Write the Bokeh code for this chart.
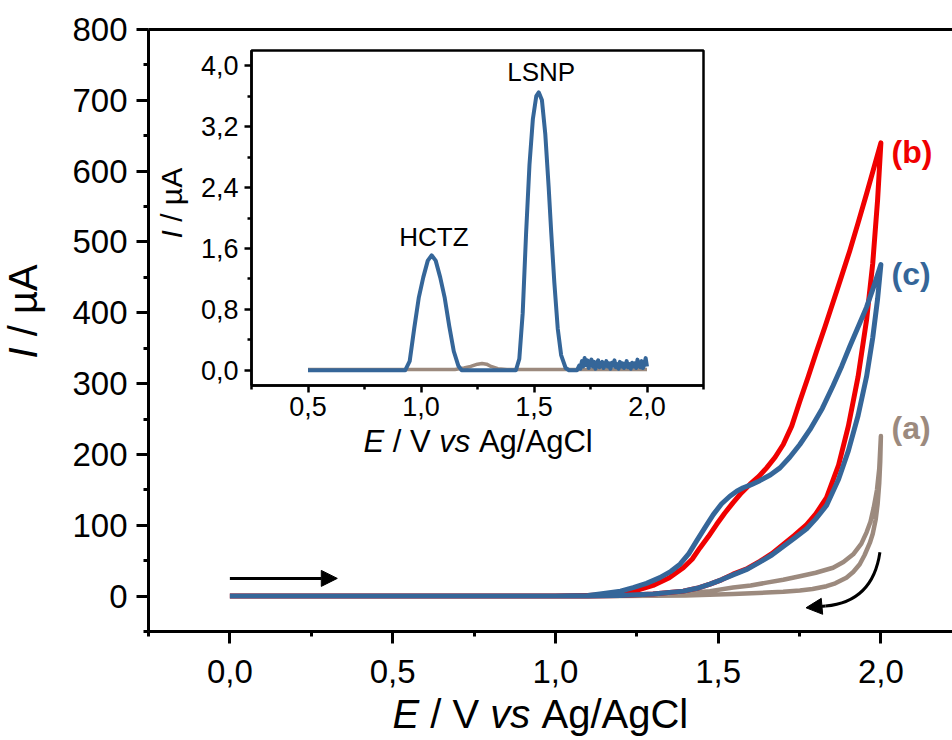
import math
from bokeh.plotting import figure
from bokeh.models import Range1d, LinearAxis, FixedTicker, Label, Arrow, NormalHead
from bokeh.embed import file_html
from bokeh.resources import INLINE

# ---------------- data ----------------
# (a) CV, brown-grey
a_fwd_E = [0.0, 1.0, 1.2, 1.3, 1.4, 1.475, 1.546, 1.6, 1.649, 1.7, 1.751, 1.8, 1.853, 1.885, 1.915, 1.94, 1.956,
           1.968, 1.978, 1.988, 1.995, 2.0]
a_fwd_I = [0, 0, 1, 2, 4, 7, 12, 15, 19, 23, 28, 33, 40, 48, 59, 74, 90, 105, 125, 150, 180, 226]
a_rev_E = [2.0, 1.998, 1.995, 1.99, 1.984, 1.975, 1.966, 1.95, 1.935, 1.915, 1.894, 1.86, 1.833, 1.79, 1.751,
           1.7, 1.649, 1.546, 1.4, 1.2, 1.0, 0.0]
a_rev_I = [226, 190, 160, 130, 108, 88, 75, 58, 45, 34, 26, 18, 14, 10, 8, 6, 5, 3, 1, 0, 0, 0]
# (b) CV, red
b_fwd_E = [0.0, 1.0, 1.1, 1.15, 1.2, 1.25, 1.3, 1.35, 1.393, 1.42, 1.444, 1.47, 1.495, 1.52, 1.546, 1.572, 1.598,
           1.625, 1.649, 1.675, 1.700, 1.726, 1.751, 1.777, 1.802, 1.828, 1.853, 1.878, 1.904, 1.930, 1.956, 1.978, 2.0]
b_fwd_I = [0, 0, 1, 2, 4, 8, 15, 26, 40, 52, 68, 84, 101, 117, 132, 146, 158, 169, 181, 196, 214, 240, 275,
           310, 345, 380, 415, 450, 487, 527, 568, 604, 640]
b_rev_E = [2.0, 1.99, 1.975, 1.956, 1.93, 1.90, 1.87, 1.833, 1.80, 1.772, 1.735, 1.700, 1.665, 1.628, 1.59, 1.546,
           1.51, 1.475, 1.435, 1.393, 1.30, 1.20, 1.10, 0.0]
b_rev_I = [640, 560, 470, 390, 310, 240, 185, 139, 116, 101, 86, 73, 60, 49, 39, 31, 23, 17, 11, 7, 3, 1, 0, 0]
# (c) CV, blue
c_fwd_E = [0.0, 1.0, 1.1, 1.137, 1.2, 1.239, 1.28, 1.321, 1.355, 1.383, 1.41, 1.434, 1.46, 1.485, 1.51, 1.536,
           1.557, 1.577, 1.60, 1.628, 1.66, 1.690, 1.72, 1.751, 1.782, 1.82, 1.853, 1.88, 1.904, 1.93, 1.956, 1.978, 2.0]
c_fwd_I = [0, 0, 1, 3, 7, 12, 18, 26, 35, 45, 60, 78, 97, 115, 130, 141, 148, 153, 157, 163, 171, 181, 196, 214,
           235, 265, 297, 325, 352, 380, 408, 437, 468]
c_rev_E = [2.0, 1.99, 1.975, 1.956, 1.93, 1.90, 1.87, 1.833, 1.80, 1.772, 1.735, 1.700, 1.665, 1.628, 1.59, 1.546,
           1.51, 1.475, 1.435, 1.393, 1.30, 1.20, 1.10, 0.0]
c_rev_I = [468, 420, 365, 310, 255, 205, 165, 128, 109, 95, 82, 70, 58, 48, 38, 30, 23, 17, 11, 7, 3, 1, 0, 0]

# inset DPV, blue
ins_c_E = [0.50, 0.90, 0.93, 0.95, 0.97, 0.99, 1.01, 1.03, 1.047, 1.065, 1.085, 1.105, 1.125, 1.145, 1.165, 1.18,
           1.40, 1.42, 1.435, 1.45, 1.465, 1.48, 1.495, 1.51, 1.521, 1.535, 1.55, 1.565, 1.576, 1.59, 1.605, 1.62, 1.64, 1.655,
           1.690, 1.700, 1.705, 1.712, 1.718, 1.724, 1.730, 1.736, 1.742, 1.748, 1.754, 1.760, 1.766, 1.772, 1.778,
           1.784, 1.790, 1.796, 1.802, 1.808, 1.814, 1.820, 1.826, 1.832, 1.838, 1.844, 1.850, 1.856, 1.862, 1.868,
           1.874, 1.880, 1.886, 1.892, 1.898, 1.904, 1.910, 1.916, 1.922, 1.928, 1.934, 1.940, 1.946, 1.952, 1.958,
           1.964, 1.970, 1.976, 1.982, 1.988, 1.994, 2.000]
ins_c_I = [0.0, 0.0, 0.0, 0.12, 0.55, 0.95, 1.22, 1.44, 1.51, 1.44, 1.22, 0.95, 0.58, 0.25, 0.06, 0.0,
           0.0, 0.0, 0.15, 0.75, 1.8, 2.7, 3.3, 3.6, 3.65, 3.55, 3.1, 2.4, 1.82, 1.15, 0.55, 0.2, 0.03, 0.0,
           0.00, 0.06, 0.02, 0.12, 0.05, 0.16, 0.07, 0.13, 0.03, 0.10, 0.14, 0.05, 0.11, 0.02, 0.09,
           0.13, 0.04, 0.08, 0.11, 0.03, 0.07, 0.12, 0.05, 0.09, 0.02, 0.10, 0.06, 0.13, 0.04, 0.08,
           0.02, 0.11, 0.05, 0.09, 0.03, 0.07, 0.12, 0.04, 0.08, 0.02, 0.10, 0.05, 0.09, 0.03, 0.14,
           0.06, 0.04, 0.12, 0.03, 0.07, 0.16, 0.05]
# inset DPV, brown-grey
ins_a_E = [0.50, 1.15, 1.19, 1.22, 1.25, 1.27, 1.29, 1.31, 1.34, 1.38, 2.00]
ins_a_I = [0.01, 0.01, 0.03, 0.05, 0.08, 0.09, 0.08, 0.05, 0.02, 0.01, 0.01]

# ticks and labels
x_major = [0.0, 0.5, 1.0, 1.5, 2.0]
x_minor = [-0.25, 0.25, 0.75, 1.25, 1.75, 2.25]
x_labels = ["0,0", "0,5", "1,0", "1,5", "2,0"]
y_major = [0, 100, 200, 300, 400, 500, 600, 700, 800]
y_minor = [-50, 50, 150, 250, 350, 450, 550, 650, 750]
y_labels = ["0", "100", "200", "300", "400", "500", "600", "700", "800"]
ix_major = [0.5, 1.0, 1.5, 2.0]
ix_minor = [0.25, 0.75, 1.25, 1.75, 2.25]
ix_labels = ["0,5", "1,0", "1,5", "2,0"]
iy_major = [0.0, 0.8, 1.6, 2.4, 3.2, 4.0]
iy_minor = [0.4, 1.2, 2.0, 2.8, 3.6]
iy_labels = ["0,0", "0,8", "1,6", "2,4", "3,2", "4,0"]

series_names = ["(a)", "(b)", "(c)"]
peak_names = ["HCTZ", "LSNP"]

# ---------------- styling / layout ----------------
FONT = "Liberation Sans"
C_A, C_B, C_C = "#9c8a7e", "#f00000", "#356699"
W, H = 952, 740
PL, PR, PT, PB = 148, 952, 29, 631           # main plot box in canvas px
MX0, MX1, MY0, MY1 = -0.25, 2.22, -50, 800   # main values at that box's edges
IL, IR, IT, IB = 251, 703, 50, 385           # inset box in canvas px
IX0, IX1, IY0, IY1 = 0.25, 2.25, -0.2, 4.2   # inset values at that box's edges
BASE_SHIFT = 0.45                            # em shift between label anchor and drawn baseline

# the frame covers the whole canvas; axes are placed with fixed_location
smx = (MX1 - MX0) / (PR - PL)
smy = (MY1 - MY0) / (PB - PT)
x_start, x_end = MX0 - PL * smx, MX1 + (W - PR) * smx
y_start, y_end = MY0 - (H - PB) * smy, MY1 + PT * smy


def px2x(px):
    return x_start + px * smx


def py2y(py):
    return y_end - py * smy


p = figure(width=W, height=H, x_range=Range1d(x_start, x_end), y_range=Range1d(y_start, y_end),
           x_axis_location=None, y_axis_location=None, output_backend="svg", toolbar_location=None,
           min_border=0, min_border_left=0, min_border_right=0, min_border_top=0, min_border_bottom=0)
p.outline_line_color = None
p.grid.visible = False
p.background_fill_color = "white"
p.border_fill_color = "white"

six = (IX1 - IX0) / (IR - IL)
siy = (IY1 - IY0) / (IB - IT)
p.extra_x_ranges = {"ix": Range1d(IX0 - IL * six, IX1 + (W - IR) * six)}
p.extra_y_ranges = {"iy": Range1d(IY0 - (H - IB) * siy, IY1 + IT * siy)}

# main axes
xa = LinearAxis(fixed_location=MY0, bounds=(MX0, 2.25), ticker=FixedTicker(ticks=x_major, minor_ticks=x_minor))
xa.major_label_overrides = dict(zip(x_major, x_labels))
ya = LinearAxis(fixed_location=MX0, bounds=(MY0, MY1), ticker=FixedTicker(ticks=y_major, minor_ticks=y_minor))
ya.major_label_overrides = dict(zip(y_major, y_labels))
for ax, stand in ((xa, 16), (ya, 9)):
    ax.axis_line_width = 3
    ax.axis_line_color = "black"
    ax.major_tick_line_width = 3
    ax.minor_tick_line_width = 3
    ax.major_tick_line_color = "black"
    ax.minor_tick_line_color = "black"
    ax.major_tick_out = 12
    ax.major_tick_in = 0
    ax.minor_tick_out = 5
    ax.minor_tick_in = 0
    ax.major_label_text_font = FONT
    ax.major_label_text_font_size = "33px"
    ax.major_label_text_color = "black"
    ax.major_label_standoff = stand
p.add_layout(xa, "below")
p.add_layout(ya, "left")
top = LinearAxis(fixed_location=MY1, bounds=(MX0, 2.25), ticker=FixedTicker(ticks=[], minor_ticks=[]),
                 axis_line_width=3, axis_line_color="black", major_label_text_font_size="0px")
p.add_layout(top, "above")

# main curves
p.line(a_fwd_E + a_rev_E, a_fwd_I + a_rev_I, line_color=C_A, line_width=4.5, line_join="round")
p.line(b_fwd_E + b_rev_E, b_fwd_I + b_rev_I, line_color=C_B, line_width=5, line_join="round")
p.line(c_fwd_E + c_rev_E, c_fwd_I + c_rev_I, line_color=C_C, line_width=5, line_join="round")

# series labels
for name, col, yv in zip(series_names, [C_A, C_B, C_C], [238, 627, 455]):
    p.add_layout(Label(x=px2x(891), y=yv, text=name, text_color=col, text_font=FONT,
                       text_font_size="32px", text_font_style="bold", text_baseline="middle"))

# scan direction arrows
arrow_fwd = dict(x0=0.0, x1=0.33, y=25)
p.add_layout(Arrow(x_start=arrow_fwd["x0"], y_start=arrow_fwd["y"], x_end=arrow_fwd["x1"], y_end=arrow_fwd["y"],
                   line_width=3, line_color="black",
                   end=NormalHead(size=16, fill_color="black", line_color="black", line_width=1)))
curve = dict(x0=1.997, y0=62, cx=1.975, cy=-8, x1=1.83, y1=-14, xe=1.77, ye=-16.5)
p.quadratic(x0=[curve["x0"]], y0=[curve["y0"]], x1=[curve["x1"]], y1=[curve["y1"]],
            cx=[curve["cx"]], cy=[curve["cy"]], line_color="black", line_width=3)
p.add_layout(Arrow(x_start=curve["x1"], y_start=curve["y1"], x_end=curve["xe"], y_end=curve["ye"],
                   line_width=3, line_color="black",
                   end=NormalHead(size=16, fill_color="black", line_color="black", line_width=1)))

# ---------------- inset ----------------
p.quad(left=[IX0], right=[IX1], bottom=[IY0], top=[IY1], x_range_name="ix", y_range_name="iy",
       fill_color="white", line_color="black", line_width=2.5)
p.line(ins_a_E, ins_a_I, x_range_name="ix", y_range_name="iy", line_color=C_A, line_width=3.5, line_join="round")
p.line(ins_c_E, ins_c_I, x_range_name="ix", y_range_name="iy", line_color=C_C, line_width=4, line_join="round")

ixa = LinearAxis(x_range_name="ix", y_range_name="iy", fixed_location=IY0, bounds=(IX0, IX1),
                 ticker=FixedTicker(ticks=ix_major, minor_ticks=ix_minor))
ixa.major_label_overrides = dict(zip(ix_major, ix_labels))
iya = LinearAxis(x_range_name="ix", y_range_name="iy", fixed_location=IX0, bounds=(IY0, IY1),
                 ticker=FixedTicker(ticks=iy_major, minor_ticks=iy_minor))
iya.major_label_overrides = dict(zip(iy_major, iy_labels))
for ax, stand in ((ixa, 4), (iya, 6)):
    ax.axis_line_width = 2.5
    ax.major_tick_line_width = 2.5
    ax.minor_tick_line_width = 2.5
    ax.major_tick_out = 7
    ax.major_tick_in = 0
    ax.minor_tick_out = 4
    ax.minor_tick_in = 0
    ax.major_label_text_font = FONT
    ax.major_label_text_font_size = "27px"
    ax.major_label_text_color = "black"
    ax.major_label_standoff = stand
p.add_layout(ixa, "below")
p.add_layout(iya, "left")

for name, ex, ey in zip(peak_names, [1.057, 1.532], [1.6, 3.76]):
    p.add_layout(Label(x=ex, y=ey + BASE_SHIFT * 26 * siy, x_range_name="ix", y_range_name="iy", text=name,
                       text_font=FONT, text_font_size="26px", text_align="center", text_baseline="alphabetic",
                       text_color="black"))

# ---------------- axis titles with italic parts ----------------
CHAR_W = {"E": .667, " ": .278, "/": .278, "V": .667, "v": .5, "s": .5, "A": .667, "g": .556,
          "C": .722, "l": .222, "I": .278, "\u00b5": .576}


def text_w(s, size):
    return sum(CHAR_W.get(ch, .556) for ch in s) * size


def add_title(parts, start_px, base_px, size, vertical=False):
    pos = start_px
    base = base_px - BASE_SHIFT * size
    for txt, style in parts:
        if vertical:
            lab = Label(x=px2x(base), y=py2y(pos), text=txt, angle=math.pi / 2, text_align="left",
                        text_baseline="alphabetic", text_font=FONT, text_font_size=f"{size}px",
                        text_font_style=style, text_color="black")
            pos -= text_w(txt + " ", size)
        else:
            lab = Label(x=px2x(pos), y=py2y(base), text=txt, text_align="left",
                        text_baseline="alphabetic", text_font=FONT, text_font_size=f"{size}px",
                        text_font_style=style, text_color="black")
            pos += text_w(txt + " ", size)
        p.add_layout(lab)


xtitle = [("E", "italic"), ("/ V", "normal"), ("vs", "italic"), ("Ag/AgCl", "normal")]
ytitle = [("I", "italic"), ("/ \u00b5A", "normal")]
add_title(xtitle, 392, 731, 40)
add_title(ytitle, 358, 40, 40, vertical=True)
add_title(xtitle, 363, 455, 31)
add_title(ytitle, 238, 184, 30, vertical=True)

open("out.html", "w").write(file_html(p, INLINE))
